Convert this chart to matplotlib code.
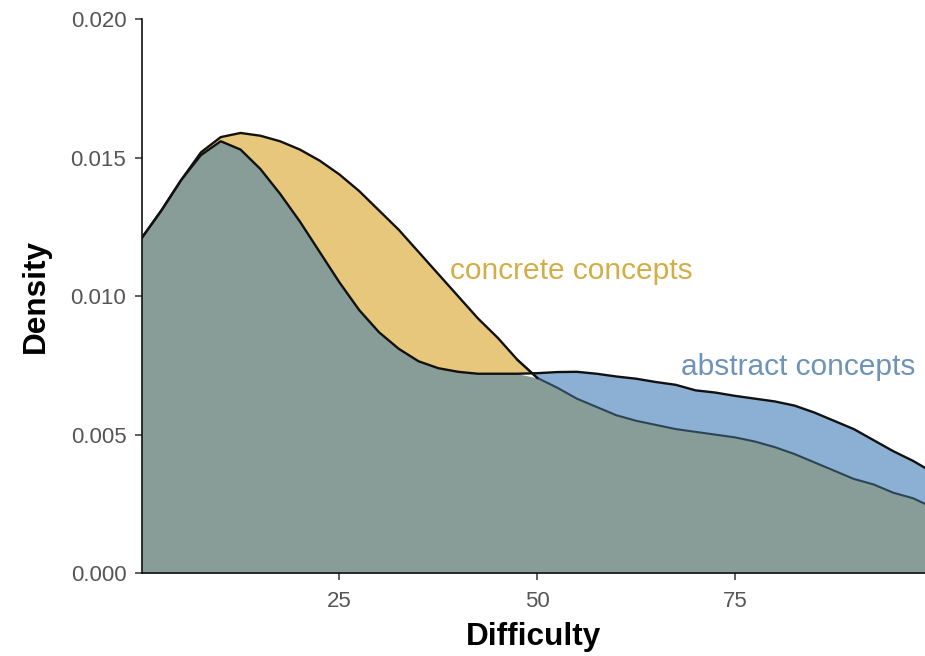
import numpy as np
import matplotlib
matplotlib.use('Agg')
import matplotlib.pyplot as plt

plt.rcParams['font.family'] = ['Liberation Sans', 'DejaVu Sans']

# values
difficulty = [0, 2.5, 5, 7.5, 10, 12.5, 15, 17.5, 20, 22.5, 25, 27.5, 30, 32.5,
              35, 37.5, 40, 42.5, 45, 47.5, 50, 52.5, 55, 57.5, 60, 62.5, 65,
              67.5, 70, 72.5, 75, 77.5, 80, 82.5, 85, 87.5, 90, 92.5, 95, 97.5, 99]
concrete = [0.0121, 0.0131, 0.0142, 0.0152, 0.01575, 0.0159, 0.0158, 0.0156,
            0.0153, 0.0149, 0.0144, 0.0138, 0.0131, 0.0124, 0.0116, 0.0108,
            0.0100, 0.0092, 0.0085, 0.0077, 0.00705, 0.0067, 0.0063, 0.0060,
            0.0057, 0.0055, 0.00535, 0.0052, 0.0051, 0.0050, 0.0049, 0.00475,
            0.00455, 0.0043, 0.0040, 0.0037, 0.0034, 0.0032, 0.0029, 0.0027, 0.0025]
abstract = [0.0121, 0.0131, 0.0142, 0.0151, 0.0156, 0.0153, 0.0146, 0.0137,
            0.0127, 0.0116, 0.0105, 0.0095, 0.0087, 0.0081, 0.00765, 0.0074,
            0.00727, 0.0072, 0.0072, 0.0072, 0.00722, 0.00726, 0.00727, 0.0072,
            0.0071, 0.00702, 0.0069, 0.0068, 0.0066, 0.00652, 0.0064, 0.0063,
            0.0062, 0.00605, 0.0058, 0.0055, 0.0052, 0.0048, 0.0044, 0.00405, 0.0038]
x_ticks = [25, 50, 75]
y_ticks = [0.000, 0.005, 0.010, 0.015, 0.020]

x = np.array(difficulty)
C = np.array(concrete)
A = np.array(abstract)

fig = plt.figure(figsize=(9.25, 6.56), dpi=100)
ax = fig.add_axes([0.1531, 0.1265, 0.8469, 0.8438])

# fills: shared area, concrete-only, abstract-only
ax.fill_between(x, 0, np.minimum(A, C), color='#889D98', lw=0)
ax.fill_between(x, A, C, where=C >= A, interpolate=True, color='#E6C77B', lw=0)
ax.fill_between(x, C, A, where=A >= C, interpolate=True, color='#8CAFD4', lw=0)

# outlines
ax.plot(x, np.where(x >= 47.5, C, np.nan), color='#2B4456', lw=1.5,
        solid_joinstyle='round')
ax.plot(x, np.where(x <= 50, C, np.nan), color='#111111', lw=1.7,
        solid_joinstyle='round')
ax.plot(x, A, color='#111111', lw=1.7, solid_joinstyle='round')

ax.text(39.0, 0.01093, 'concrete concepts', color='#D3AE47', fontsize=21.5,
        va='center', ha='left')
ax.text(68.2, 0.00743, 'abstract concepts', color='#6E93B8', fontsize=21.5,
        va='center', ha='left')

ax.set_xlim(0, 99)
ax.set_ylim(0, 0.020)
ax.set_xticks(x_ticks)
ax.set_yticks(y_ticks)
ax.set_yticklabels(['%.3f' % v for v in y_ticks])
ax.tick_params(colors='#333333', labelcolor='#555555', labelsize=16,
               length=5, width=1.1)
ax.tick_params(axis='x', pad=8)
ax.tick_params(axis='y', pad=6)

for s in ['top', 'right']:
    ax.spines[s].set_visible(False)
for s in ['left', 'bottom']:
    ax.spines[s].set_linewidth(1.2)
    ax.spines[s].set_color('#111111')

ax.set_xlabel('Difficulty', fontsize=22.7, fontweight='bold', labelpad=7)
ax.set_ylabel('Density', fontsize=22.7, fontweight='bold', labelpad=14)

fig.savefig('out.png', dpi=100)
